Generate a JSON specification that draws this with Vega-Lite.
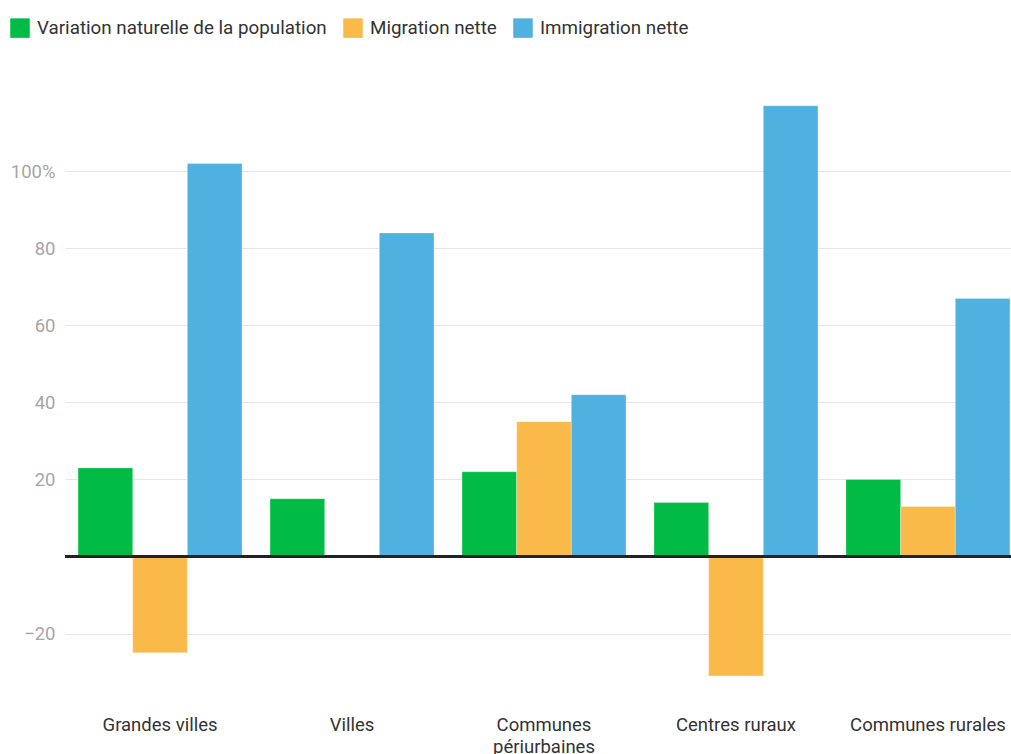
{
  "$schema": "https://vega.github.io/schema/vega-lite/v6.json",
  "autosize": "none",
  "width": 958,
  "height": 624,
  "padding": {"left": 65, "top": 75, "right": 0, "bottom": 55},
  "background": "white",
  "config": {
    "font": "Roboto",
    "view": {"stroke": null}
  },
  "data": {
    "values": [
      {"zone": "Grandes villes", "serie": "Variation naturelle de la population", "valeur": 23},
      {"zone": "Grandes villes", "serie": "Migration nette", "valeur": -25},
      {"zone": "Grandes villes", "serie": "Immigration nette", "valeur": 102},
      {"zone": "Villes", "serie": "Variation naturelle de la population", "valeur": 15},
      {"zone": "Villes", "serie": "Migration nette", "valeur": 0},
      {"zone": "Villes", "serie": "Immigration nette", "valeur": 84},
      {"zone": "Communes périurbaines", "serie": "Variation naturelle de la population", "valeur": 22},
      {"zone": "Communes périurbaines", "serie": "Migration nette", "valeur": 35},
      {"zone": "Communes périurbaines", "serie": "Immigration nette", "valeur": 42},
      {"zone": "Centres ruraux", "serie": "Variation naturelle de la population", "valeur": 14},
      {"zone": "Centres ruraux", "serie": "Migration nette", "valeur": -31},
      {"zone": "Centres ruraux", "serie": "Immigration nette", "valeur": 117},
      {"zone": "Communes rurales", "serie": "Variation naturelle de la population", "valeur": 20},
      {"zone": "Communes rurales", "serie": "Migration nette", "valeur": 13},
      {"zone": "Communes rurales", "serie": "Immigration nette", "valeur": 67}
    ]
  },
  "layer": [
    {
      "mark": {"type": "bar", "stroke": "white", "strokeWidth": 0.5, "strokeOpacity": 0.6},
      "encoding": {
        "x": {
          "field": "zone",
          "type": "nominal",
          "sort": null,
          "title": null,
          "scale": {"paddingInner": 0.146, "paddingOuter": 0.068},
          "axis": {
            "domain": false,
            "ticks": false,
            "labelAngle": 0,
            "labelFontSize": 18.5,
            "labelColor": "#333333",
            "labelPadding": 16,
            "labelLineHeight": 22,
            "labelLimit": 0,
            "labelExpr": "datum.label == 'Communes périurbaines' ? ['Communes', 'périurbaines'] : datum.label"
          }
        },
        "xOffset": {
          "field": "serie",
          "type": "nominal",
          "sort": ["Variation naturelle de la population", "Migration nette", "Immigration nette"],
          "scale": {"paddingInner": 0, "paddingOuter": 0}
        },
        "y": {
          "field": "valeur",
          "type": "quantitative",
          "title": null,
          "scale": {"domain": [-37, 125], "nice": false},
          "axis": {
            "values": [-20, 20, 40, 60, 80, 100],
            "labelExpr": "datum.value == 100 ? '100%' : datum.value < 0 ? '−' + abs(datum.value) : datum.label",
            "domain": false,
            "ticks": false,
            "labelFontSize": 18.5,
            "labelColor": "#a6a6a6",
            "labelPadding": 10,
            "gridColor": "#e6e6e6",
            "gridWidth": 1.2
          }
        },
        "color": {
          "field": "serie",
          "type": "nominal",
          "sort": ["Variation naturelle de la population", "Migration nette", "Immigration nette"],
          "scale": {
            "domain": ["Variation naturelle de la population", "Migration nette", "Immigration nette"],
            "range": ["#00bb44", "#f9ba4a", "#4eb1e0"]
          },
          "legend": {
            "title": null,
            "orient": "none",
            "direction": "horizontal",
            "legendX": -55,
            "legendY": -57,
            "symbolType": "square",
            "symbolSize": 380,
            "symbolStrokeWidth": 0,
            "labelFontSize": 18.8,
            "labelColor": "#333333",
            "labelLimit": 0,
            "columnPadding": 16,
            "labelOffset": 7
          }
        }
      }
    },
    {
      "mark": {"type": "rule", "color": "#222222", "strokeWidth": 1.5},
      "encoding": {
        "y": {"datum": 0}
      }
    }
  ]
}
